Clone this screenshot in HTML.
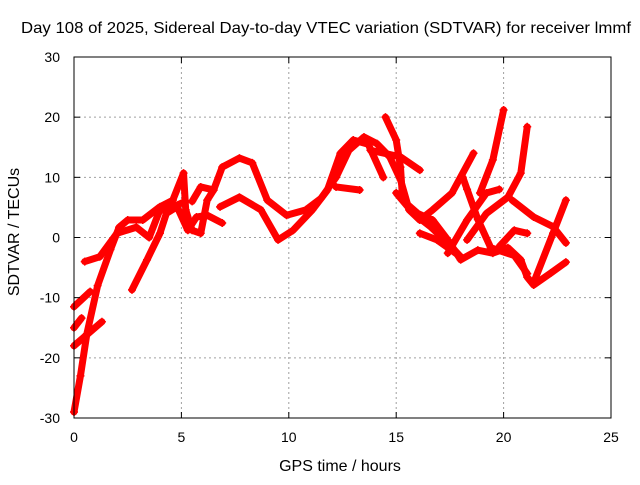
<!DOCTYPE html>
<html><head><meta charset="utf-8"><style>
body{margin:0;background:#fff}
svg text{font-family:"Liberation Sans",sans-serif;font-size:14px;fill:#000}
svg text.big{font-size:16px}
</style></head><body>
<svg id="c" width="640" height="480">
<text class="big" x="326" y="33" text-anchor="middle" textLength="610" lengthAdjust="spacingAndGlyphs">Day 108 of 2025, Sidereal Day-to-day VTEC variation (SDTVAR) for receiver lmmf</text>
<text class="big" x="340" y="471" text-anchor="middle">GPS time / hours</text>
<text class="big" transform="translate(19,232) rotate(-90)" text-anchor="middle">SDTVAR / TECUs</text>
<g id="grid"></g><g id="series"></g><g id="axes"></g>
</svg>
<script>
const xTicks=[0,5,10,15,20,25];
const yTicks=[-30,-20,-10,0,10,20,30];
const tracks=[
[[0,-29],[0.3,-23],[0.6,-16],[1.1,-8],[1.7,-2],[2.1,1.7],[2.5,2.9],[3.2,2.9],[4,5.1],[4.6,6.2],[5.1,10.7],[5.2,4.6],[5.5,1.2],[5.9,0.7],[6.2,6.2],[6.5,7.9]],
[[2.7,-8.7],[3.4,-3.7],[4,0.7],[4.3,4],[4.8,5.1],[5.3,1.2],[5.7,3.4],[6.2,3.7],[6.9,2.4]],
[[0.5,-4],[1.2,-3.2],[2,0.7],[2.9,1.7],[3.5,0],[4,4.6],[4.6,5.1],[5.2,6]],
[[0,-11.5],[0.75,-9]],
[[0,-15],[0.35,-13.4]],
[[0,-18],[1.3,-14]],
[[5.5,6],[5.9,8.4],[6.5,7.9],[6.9,11.7],[7.7,13.2],[8.3,12.4],[9,6.2],[9.9,3.7],[10.8,4.6],[11.5,6.5],[12.2,10],[12.8,14.5],[13.5,16.7],[14.1,15.6],[14.7,13.4],[15.2,9.6],[15.6,4.6],[16.1,2.9],[16.7,4.6],[17.6,7.4],[18.6,14]],
[[6.8,5.1],[7.7,6.7],[8.7,4.6],[9.5,-0.4],[10.2,1.2],[11.1,4.6],[11.8,7.9],[12.4,14],[13,16.2],[13.7,15.5],[14.4,10]],
[[12.2,8.4],[13.3,7.9]],
[[14.5,20],[15,16.2],[15.2,11.7],[15.3,6.2],[16,4],[16.7,2.9],[17.4,-0.4],[18,-3.7],[18.8,-2.1],[19.5,-2.6],[20.2,-1.7],[20.8,-3.7],[21.1,-6.6],[21.4,-7.9],[22.2,-5.9],[22.9,-4.1]],
[[13.8,14.5],[15.2,13.4],[16.1,11.2]],
[[15,7.4],[15.8,4],[16.6,1.8],[17.4,-0.9],[18,-3.2]],
[[16.1,0.7],[16.9,-0.4],[18,-3.2]],
[[17.4,-2.6],[18.3,2.9],[19.2,7.4],[19.8,8]],
[[18.3,-0.4],[19.2,4],[20.2,6.7],[20.8,10.7],[21.1,18.4]],
[[18.9,7.4],[19.5,12.9],[20,21.2]],
[[18.1,10],[18.3,8],[18.8,3],[19.4,-1.7],[20.5,-3],[21.1,-6]],
[[20.4,6.2],[21.4,3.4],[22.3,1.8],[22.9,-0.9]],
[[21.4,-7.5],[22.3,0.7],[22.9,6.2]],
[[19.8,-1.5],[20.5,1.2],[21.1,0.7]]
];
const L=74,R=611,T=57,B=418;
const X=h=>L+(h-0)/25*(R-L);
const Y=v=>B-(v+30)/60*(B-T);
const NS="http://www.w3.org/2000/svg";
function mk(tag,parent,attrs){const e=document.createElementNS(NS,tag);for(const k in attrs)e.setAttribute(k,attrs[k]);parent.appendChild(e);return e;}
const grid=document.getElementById('grid'),axes=document.getElementById('axes'),ser=document.getElementById('series');
xTicks.forEach(t=>{
 if(t>0&&t<25){const g=mk('line',grid,{x1:X(t),x2:X(t),y1:T,y2:B,stroke:'#a0a0a0','stroke-dasharray':'2,3'});
 
 }
 const tx=mk('text',axes,{x:X(t),y:B+24,'text-anchor':'middle'});tx.textContent=t;
 
 
 mk('line',axes,{x1:X(t),x2:X(t),y1:B,y2:B-6,stroke:'#000'});
 mk('line',axes,{x1:X(t),x2:X(t),y1:T,y2:T+6,stroke:'#000'});
});
yTicks.forEach(t=>{
 if(t>-30&&t<30){const g=mk('line',grid,{x1:L,x2:R,y1:Y(t),y2:Y(t),stroke:'#a0a0a0','stroke-dasharray':'2,3'});
 
 }
 const tx=mk('text',axes,{x:L-14,y:Y(t)+5,'text-anchor':'end'});tx.textContent=t;
 
 
 mk('line',axes,{x1:L,x2:L+6,y1:Y(t),y2:Y(t),stroke:'#000'});
 mk('line',axes,{x1:R,x2:R-6,y1:Y(t),y2:Y(t),stroke:'#000'});
});
const fr=mk('rect',axes,{x:L,y:T,width:R-L,height:B-T,fill:'none',stroke:'#000'});


tracks.forEach(tr=>{
 const g=mk('g',ser,{});
 
 
 mk('polyline',g,{points:tr.map(p=>X(p[0])+','+Y(p[1])).join(' '),fill:'none',stroke:'#ff0000','stroke-width':7,'stroke-linejoin':'round','stroke-linecap':'round'});
 tr.forEach(p=>{
  const x=X(p[0]),y=Y(p[1]);
  mk('path',g,{d:`M${x-4},${y}H${x+4}M${x},${y-4}V${y+4}`,stroke:'#ff0000','stroke-width':1.5});
 });
});
</script>
</body></html>
